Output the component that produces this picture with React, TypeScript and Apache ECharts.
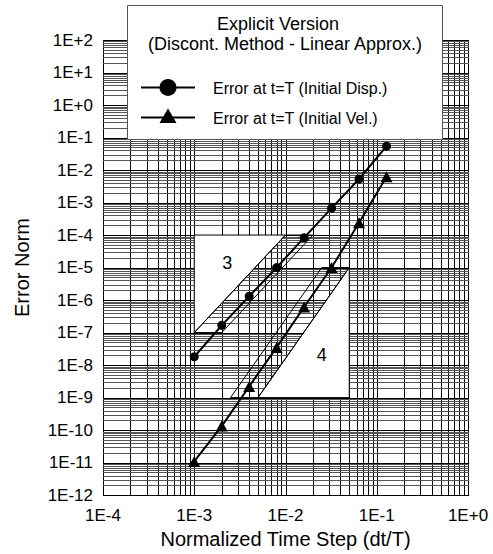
import React, { useEffect, useRef } from "react";
import * as echarts from "echarts";

// ---- data ----
const dtValues = [0.001, 0.002, 0.004, 0.008, 0.016, 0.032, 0.064, 0.128];
const errDisp = [1.8e-8, 1.67e-7, 1.31e-6, 1.0e-5, 8.3e-5, 6.7e-4, 5.3e-3, 5.4e-2];
const errVel = [1.09e-11, 1.33e-10, 2.2e-9, 3.5e-8, 6.1e-7, 1.0e-5, 2.4e-4, 6.2e-3];
const seriesNames = ["Error at t=T (Initial Disp.)", "Error at t=T (Initial Vel.)"];
const legendTitle = ["Explicit Version", "(Discont. Method - Linear Approx.)"];
const xAxisName = "Normalized Time Step (dt/T)";
const yAxisName = "Error Norm";
const xDecadeRange = [-4, 0];
const yDecadeRange = [-12, 2];
const slope3Triangle = [[1e-3, 1e-4], [1e-2, 1e-4], [1e-3, 1e-7]];
const slope3Band = [[1e-3, 1e-7], [1e-2, 1e-4], [2e-2, 1e-4], [2e-3, 1e-7]];
const slope4Triangle = [[5e-2, 1e-5], [5e-2, 1e-9], [5e-3, 1e-9]];
const slope4Band = [[5e-2, 1e-5], [2.5e-2, 1e-5], [2.5e-3, 1e-9], [5e-3, 1e-9]];
const slopeLabels = [
  { text: "3", at: [2.3e-3, 1.4e-5] },
  { text: "4", at: [2.5e-2, 2e-8] },
];

const FONT = "'Liberation Sans', Arial, Helvetica, sans-serif";

function gridValues(range: number[]) {
  const out: { v: number; major: boolean }[] = [];
  for (let d = range[0]; d < range[1]; d++) {
    for (let m = 1; m <= 9; m++) out.push({ v: m * Math.pow(10, d), major: m === 1 });
  }
  out.push({ v: Math.pow(10, range[1]), major: true });
  return out;
}
function decades(range: number[]) {
  const out: number[] = [];
  for (let d = range[0]; d <= range[1]; d++) out.push(Math.pow(10, d));
  return out;
}

const xMin = Math.pow(10, xDecadeRange[0]);
const xMax = Math.pow(10, xDecadeRange[1]);
const yMin = Math.pow(10, yDecadeRange[0]);
const yMax = Math.pow(10, yDecadeRange[1]);

const expLabel = (v: number) => {
  const e = Math.round(Math.log10(v));
  return "1E" + (e >= 0 ? "+" : "") + e;
};

export default function App() {
  const ref = useRef<HTMLDivElement>(null);
  useEffect(() => {
    document.body.style.margin = "0";
    const chart = echarts.init(ref.current!, null, { renderer: "svg" });
    const xg = gridValues(xDecadeRange);
    const yg = gridValues(yDecadeRange);
    const crisp = (v: number) => Math.round(v) + 0.5;
    const Z = 100;

    const option: any = {
      animation: false,
      backgroundColor: "#fff",
      textStyle: { fontFamily: FONT },
      grid: { left: 103, right: 25, top: 40, bottom: 55 },
      xAxis: {
        type: "log",
        logBase: 10,
        min: xMin,
        max: xMax,
        splitNumber: 4,
        axisLine: { show: false },
        axisTick: { show: false },
        splitLine: { show: false },
        axisLabel: {
          formatter: expLabel,
          fontSize: 17,
          color: "#000",
          margin: 12,
          fontFamily: FONT,
          customValues: decades(xDecadeRange),
        },
        name: xAxisName,
        nameLocation: "middle",
        nameGap: 32,
        nameTextStyle: { fontSize: 20, color: "#000", fontFamily: FONT },
      },
      yAxis: {
        type: "log",
        logBase: 10,
        min: yMin,
        max: yMax,
        splitNumber: 14,
        axisLine: { show: false },
        axisTick: { show: false },
        splitLine: { show: false },
        axisLabel: {
          formatter: expLabel,
          fontSize: 17,
          color: "#000",
          margin: 10,
          fontFamily: FONT,
          hideOverlap: false,
          customValues: decades(yDecadeRange),
        },
        name: yAxisName,
        nameLocation: "middle",
        nameGap: 71,
        nameTextStyle: { fontSize: 20, color: "#000", fontFamily: FONT },
      },
      series: [
        {
          type: "custom",
          silent: true,
          z: 1,
          data: xg.map((g) => [g.v, 1, g.major ? 1 : 0]),
          renderItem: (params: any, api: any) => {
            const x = api.value(0);
            const a = api.coord([x, yMax]);
            const b = api.coord([x, yMin]);
            const px = crisp(a[0]);
            return {
              type: "line",
              shape: { x1: px, y1: Math.round(a[1]), x2: px, y2: Math.round(b[1]) + 1 },
              style: { stroke: "#000", lineWidth: 1 },
            };
          },
        },
        {
          type: "custom",
          silent: true,
          z: 1,
          data: yg.map((g) => [0.01, g.v, g.major ? 1 : 0]),
          renderItem: (params: any, api: any) => {
            const y = api.value(1);
            const major = api.value(2) === 1;
            const a = api.coord([xMin, y]);
            const b = api.coord([xMax, y]);
            const py = crisp(a[1]);
            return {
              type: "line",
              shape: { x1: Math.round(a[0]), y1: py, x2: Math.round(b[0]) + 1, y2: py },
              style: { stroke: major ? "#000" : "#555", lineWidth: 1 },
            };
          },
        },
        {
          type: "custom",
          silent: true,
          z: 2,
          data: [[0.01, 1e-6]],
          renderItem: (params: any, api: any) => {
            const pts = (arr: number[][]) => arr.map((p) => api.coord(p));
            const children: any[] = [];
            [
              [slope3Triangle, slope3Band],
              [slope4Triangle, slope4Band],
            ].forEach(([tri, band]) => {
              children.push({
                type: "polygon",
                shape: { points: pts(tri) },
                style: { fill: "#fff", stroke: "#000", lineWidth: 1 },
              });
              children.push({
                type: "polygon",
                shape: { points: pts(band) },
                style: { fill: "none", stroke: "#000", lineWidth: 1 },
              });
            });
            slopeLabels.forEach((l) => {
              const c = api.coord(l.at);
              children.push({
                type: "text",
                x: c[0],
                y: c[1],
                style: {
                  text: l.text,
                  fontSize: 18,
                  fontFamily: FONT,
                  fill: "#000",
                  align: "center",
                  verticalAlign: "middle",
                },
              });
            });
            return { type: "group", children };
          },
        },
        {
          type: "line",
          name: seriesNames[0],
          z: 3,
          data: dtValues.map((x, i) => [x, errDisp[i]]),
          symbol: "circle",
          symbolSize: 9,
          lineStyle: { color: "#000", width: 2 },
          itemStyle: { color: "#000" },
        },
        {
          type: "line",
          name: seriesNames[1],
          z: 3,
          data: dtValues.map((x, i) => [x, errVel[i]]),
          symbol: "triangle",
          symbolSize: [12, 11],
          lineStyle: { color: "#000", width: 2 },
          itemStyle: { color: "#000" },
        },
      ],
      graphic: [
        {
          type: "rect",
          z: Z,
          shape: { x: 127.5, y: 5.5, width: 315, height: 134 },
          style: { fill: "#fff", stroke: "#555", lineWidth: 1 },
        },
        {
          type: "text",
          z: Z + 1,
          x: 278,
          y: 24,
          style: { text: legendTitle[0], fontSize: 18, fontFamily: FONT, fill: "#000", align: "center", verticalAlign: "middle" },
        },
        {
          type: "text",
          z: Z + 1,
          x: 285,
          y: 43.5,
          style: { text: legendTitle[1], fontSize: 18, fontFamily: FONT, fill: "#000", align: "center", verticalAlign: "middle" },
        },
        {
          type: "line",
          z: Z + 1,
          shape: { x1: 141, y1: 87.5, x2: 195, y2: 87.5 },
          style: { stroke: "#000", lineWidth: 2 },
        },
        { type: "circle", z: Z + 2, shape: { cx: 168, cy: 87.5, r: 8.5 }, style: { fill: "#000" } },
        {
          type: "text",
          z: Z + 1,
          x: 213,
          y: 88,
          style: { text: seriesNames[0], fontSize: 16, fontFamily: FONT, fill: "#000", align: "left", verticalAlign: "middle" },
        },
        {
          type: "line",
          z: Z + 1,
          shape: { x1: 141, y1: 117.5, x2: 195, y2: 117.5 },
          style: { stroke: "#000", lineWidth: 2 },
        },
        {
          type: "polygon",
          z: Z + 2,
          shape: { points: [[168, 108.5], [176.5, 123], [159.5, 123]] },
          style: { fill: "#000" },
        },
        {
          type: "text",
          z: Z + 1,
          x: 213,
          y: 118,
          style: { text: seriesNames[1], fontSize: 16, fontFamily: FONT, fill: "#000", align: "left", verticalAlign: "middle" },
        },
      ],
    };
    chart.setOption(option);
    return () => chart.dispose();
  }, []);
  return <div ref={ref} style={{ position: "absolute", left: 0, top: 0, width: 493, height: 554 }} />;
}
